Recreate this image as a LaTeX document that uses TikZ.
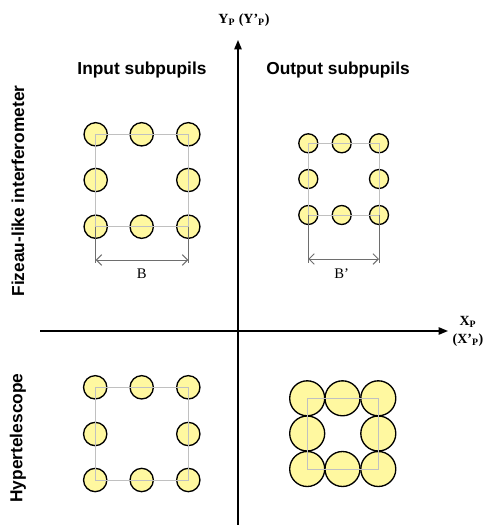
\documentclass[tikz,border=0pt]{standalone}
\usepackage{fontspec}
\setmainfont{Liberation Serif}
\newfontfamily\headfont{Liberation Sans}
\usetikzlibrary{arrows.meta}

\definecolor{pupilfill}{RGB}{255,248,160}
\definecolor{gridgray}{RGB}{192,192,192}
\definecolor{dimgray}{RGB}{110,110,110}

\tikzset{
  pupil/.style={circle, draw=black, line width=1pt, fill=pupilfill, inner sep=0pt},
  gridline/.style={draw=gridgray, line width=0.6pt},
  dimline/.style={draw=dimgray, line width=0.7pt},
  header/.style={font=\headfont\bfseries\fontsize{13}{15}\selectfont},
  axislabel/.style={font=\bfseries\fontsize{10.5}{12}\selectfont, align=center},
}

\begin{document}
\begin{tikzpicture}[x=0.75pt, y=-0.75pt]
  \useasboundingbox (0,0) rectangle (492,525);

  % axes
  \coordinate (ybot) at (238,525);
  \coordinate (ytop) at (238,40);
  \coordinate (xleft) at (40,331);
  \coordinate (xright) at (448,331);
  \draw[line width=1.1pt, -{Triangle[length=7pt, width=5.5pt]}] (ybot) -- (ytop);
  \draw[line width=1.1pt, -{Triangle[length=7pt, width=5.5pt]}] (xleft) -- (xright);
  \node[axislabel] (ylab) at (244,20) {Y\textsubscript{P} (Y’\textsubscript{P})};
  \node[axislabel, inner sep=0pt] (xlab) at (468,322) {X\textsubscript{P}};
  \node[axislabel, inner sep=0pt] (xlab2) at (468,340) {(X’\textsubscript{P})};

  % titles
  \node[header] (intitle) at (142,70) {Input subpupils};
  \node[header] (outtitle) at (338,70) {Output subpupils};
  \node[header, rotate=90] (fizeau) at (18,191) {Fizeau-like interferometer};
  \node[header, rotate=90] (hyper) at (18,438) {Hypertelescope};

  % input subpupils (Fizeau)
  \foreach \n/\x/\y in {11/95.7/134.3, 12/141.7/134.3, 13/188.3/134.3,
                        21/95.7/180, 23/188.3/180,
                        31/95.7/226.7, 32/141.7/226.7, 33/188.3/226.7}
    \node[pupil, minimum size=17.5pt] (in\n) at (\x,\y) {};
  \draw[gridline] (in11.center) -- (in13.center) -- (in33.center) -- (in31.center) -- cycle;

  % baseline B
  \coordinate (inB1) at (95.7,263);
  \coordinate (inB2) at (188.3,263);
  \coordinate (inA1) at (95.7,260);
  \coordinate (inA2) at (188.3,260);
  \draw[dimline] (in31.center) -- (inB1);
  \draw[dimline] (in33.center) -- (inB2);
  \draw[dimline, {Straight Barb[length=4pt]}-{Straight Barb[length=4pt]}] (inA1) -- (inA2);
  \node[font=\fontsize{11}{13}\selectfont] (inB) at (141.7,274) {B};

  % output subpupils (Fizeau)
  \foreach \n/\x/\y in {11/308.3/143.3, 12/341.7/143.3, 13/379/143.3,
                        21/308.3/179, 23/379/179,
                        31/308.3/215, 32/341.7/215, 33/379/215}
    \node[pupil, minimum size=14.25pt] (out\n) at (\x,\y) {};
  \draw[gridline] (out11.center) -- (out13.center) -- (out33.center) -- (out31.center) -- cycle;

  % baseline B'
  \coordinate (outB1) at (308.3,263);
  \coordinate (outB2) at (379,263);
  \coordinate (outA1) at (308.3,259);
  \coordinate (outA2) at (379,259);
  \draw[dimline] (out31.center) -- (outB1);
  \draw[dimline] (out33.center) -- (outB2);
  \draw[dimline, {Straight Barb[length=4pt]}-{Straight Barb[length=4pt]}] (outA1) -- (outA2);
  \node[font=\fontsize{11}{13}\selectfont] (outB) at (341.7,274) {B’};

  % input subpupils (hypertelescope)
  \foreach \n/\x/\y in {11/95.2/387.3, 12/141.7/387.3, 13/188.3/387.3,
                        21/95.2/434, 23/188.3/434,
                        31/95.2/480, 32/141.7/480, 33/188.3/480}
    \node[pupil, minimum size=17.5pt] (hin\n) at (\x,\y) {};
  \draw[gridline] (hin11.center) -- (hin13.center) -- (hin33.center) -- (hin31.center) -- cycle;

  % densified output subpupils (hypertelescope)
  \foreach \n/\x/\y in {11/307.2/398.3, 12/342.5/398.3, 13/378.3/398.3,
                        21/307.2/433.5, 23/378.3/433.5,
                        31/307.2/469, 32/342.5/469, 33/378.3/469}
    \node[pupil, minimum size=26.25pt] (hout\n) at (\x,\y) {};
  \draw[gridline] (hout11.center) -- (hout13.center) -- (hout33.center) -- (hout31.center) -- cycle;
\end{tikzpicture}
\end{document}
